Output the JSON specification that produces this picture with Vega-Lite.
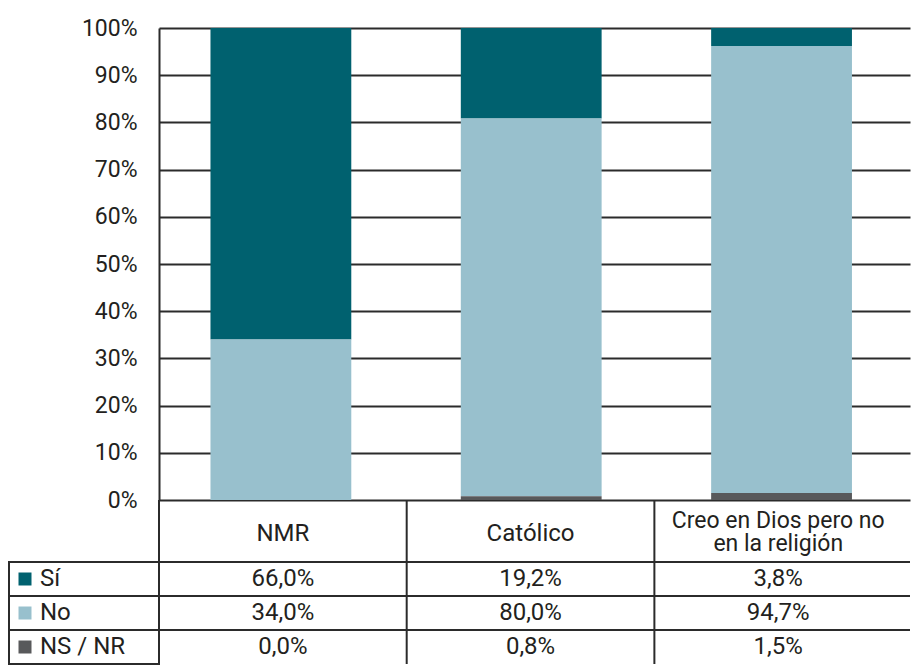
{
  "$schema": "https://vega.github.io/schema/vega-lite/v6.json",
  "background": "white",
  "padding": {"left": 8, "top": 17, "right": 0, "bottom": 0},
  "autosize": {"type": "pad"},
  "columns": 2,
  "spacing": 0,
  "bounds": "flush",
  "config": {
    "view": {"stroke": null},
    "font": "Roboto",
    "locale": {"number": {"decimal": ",", "thousands": ".", "grouping": [3], "currency": ["", " €"]}},
    "text": {"font": "Roboto", "fontSize": 24, "color": "#231f20"}
  },
  "datasets": {
    "encuesta": [
      {"Categoria": "NMR", "Respuesta": "Sí", "Porcentaje": 0.660},
      {"Categoria": "NMR", "Respuesta": "No", "Porcentaje": 0.340},
      {"Categoria": "NMR", "Respuesta": "NS / NR", "Porcentaje": 0.000},
      {"Categoria": "Católico", "Respuesta": "Sí", "Porcentaje": 0.192},
      {"Categoria": "Católico", "Respuesta": "No", "Porcentaje": 0.800},
      {"Categoria": "Católico", "Respuesta": "NS / NR", "Porcentaje": 0.008},
      {"Categoria": "Creo en Dios pero no en la religión", "Respuesta": "Sí", "Porcentaje": 0.038},
      {"Categoria": "Creo en Dios pero no en la religión", "Respuesta": "No", "Porcentaje": 0.947},
      {"Categoria": "Creo en Dios pero no en la religión", "Respuesta": "NS / NR", "Porcentaje": 0.015}
    ]
  },
  "concat": [
    {"width": 150, "height": 472, "data": {"values": []}, "mark": "point"},
    {
      "width": 751,
      "height": 472,
      "data": {"name": "encuesta"},
      "mark": {"type": "bar"},
      "encoding": {
        "x": {"field": "Categoria", "type": "nominal", "sort": null, "scale": {"paddingInner": 0.4375, "paddingOuter": 0.21875, "align": 0.47}, "axis": null},
        "y": {
          "field": "Porcentaje", "type": "quantitative", "stack": "zero",
          "scale": {"domain": [0, 1], "nice": false},
          "axis": {
            "values": [0, 0.1, 0.2, 0.3, 0.4, 0.5, 0.6, 0.7, 0.8, 0.9, 1],
            "format": ".0%", "title": null, "ticks": false, "labelPadding": 22,
            "labelFont": "Roboto", "labelFontSize": 23, "labelColor": "#231f20",
            "domainColor": "#2b2b2b", "domainWidth": 2,
            "grid": true, "gridColor": "#2b2b2b", "gridWidth": 2, "gridOpacity": 1
          }
        },
        "color": {
          "field": "Respuesta", "type": "nominal",
          "scale": {"domain": ["NS / NR", "No", "Sí"], "range": ["#58595b", "#98c0cd", "#00616f"]},
          "legend": null
        },
        "order": {"field": "Respuesta", "sort": "ascending"}
      }
    },
    {"width": 150, "height": 62, "data": {"values": []}, "mark": "point"},
    {
      "width": 751,
      "height": 62,
      "data": {"name": "encuesta"},
      "transform": [
        {"filter": "datum.Respuesta === 'Sí'"},
        {"calculate": "datum.Categoria === 'Creo en Dios pero no en la religión' ? ['Creo en Dios pero no', 'en la religión'] : datum.Categoria", "as": "Encabezado"}
      ],
      "layer": [
        {
          "mark": {"type": "rule", "color": "#2b2b2b", "strokeWidth": 2},
          "encoding": {
            "x": {"field": "Categoria", "type": "nominal", "sort": null, "bandPosition": 0, "scale": {"paddingInner": 0, "paddingOuter": 0.016, "align": 0}, "axis": null}
          }
        },
        {
          "transform": [{"filter": "!isArray(datum.Encabezado)"}],
          "mark": {"type": "text", "baseline": "middle", "dy": 3},
          "encoding": {
            "x": {"field": "Categoria", "type": "nominal", "sort": null, "axis": null},
            "text": {"field": "Encabezado"}
          }
        },
        {
          "transform": [{"filter": "isArray(datum.Encabezado)"}],
          "mark": {"type": "text", "baseline": "middle", "fontSize": 23, "lineHeight": 23, "dy": -10},
          "encoding": {
            "x": {"field": "Categoria", "type": "nominal", "sort": null, "axis": null},
            "text": {"field": "Encabezado"}
          }
        }
      ]
    },
    {
      "width": 150,
      "height": 102,
      "data": {"name": "encuesta"},
      "transform": [{"filter": "datum.Categoria === 'NMR'"}],
      "layer": [
        {
          "mark": {"type": "rect", "fill": "transparent", "stroke": "#2b2b2b", "strokeWidth": 2},
          "encoding": {
            "y": {"field": "Respuesta", "type": "nominal", "sort": ["Sí", "No", "NS / NR"], "scale": {"paddingInner": 0, "paddingOuter": 0}, "axis": null}
          }
        },
        {
          "mark": {"type": "square", "size": 169, "filled": true, "opacity": 1, "xOffset": 16},
          "encoding": {
            "x": {"value": 0},
            "y": {"field": "Respuesta", "type": "nominal", "sort": ["Sí", "No", "NS / NR"], "axis": null},
            "color": {
              "field": "Respuesta", "type": "nominal",
              "scale": {"domain": ["NS / NR", "No", "Sí"], "range": ["#58595b", "#98c0cd", "#00616f"]},
              "legend": null
            }
          }
        },
        {
          "mark": {"type": "text", "align": "left", "baseline": "middle", "dx": 31},
          "encoding": {
            "x": {"value": 0},
            "y": {"field": "Respuesta", "type": "nominal", "sort": ["Sí", "No", "NS / NR"], "axis": null},
            "text": {"field": "Respuesta"}
          }
        }
      ]
    },
    {
      "width": 751,
      "height": 102,
      "data": {"name": "encuesta"},
      "layer": [
        {
          "transform": [{"filter": "datum.Categoria === 'NMR'"}],
          "mark": {"type": "rule", "color": "#2b2b2b", "strokeWidth": 2},
          "encoding": {
            "y": {"field": "Respuesta", "type": "nominal", "sort": ["Sí", "No", "NS / NR"], "bandPosition": 0, "scale": {"paddingInner": 0, "paddingOuter": 0}, "axis": null}
          }
        },
        {
          "transform": [{"filter": "datum.Respuesta === 'Sí'"}],
          "mark": {"type": "rule", "color": "#2b2b2b", "strokeWidth": 2},
          "encoding": {
            "x": {"field": "Categoria", "type": "nominal", "sort": null, "bandPosition": 0, "scale": {"paddingInner": 0, "paddingOuter": 0.016, "align": 0}, "axis": null}
          }
        },
        {
          "mark": {"type": "text", "baseline": "middle"},
          "encoding": {
            "x": {"field": "Categoria", "type": "nominal", "sort": null, "axis": null},
            "y": {"field": "Respuesta", "type": "nominal", "sort": ["Sí", "No", "NS / NR"], "axis": null},
            "text": {"field": "Porcentaje", "type": "quantitative", "format": ".1%"}
          }
        }
      ]
    }
  ]
}
